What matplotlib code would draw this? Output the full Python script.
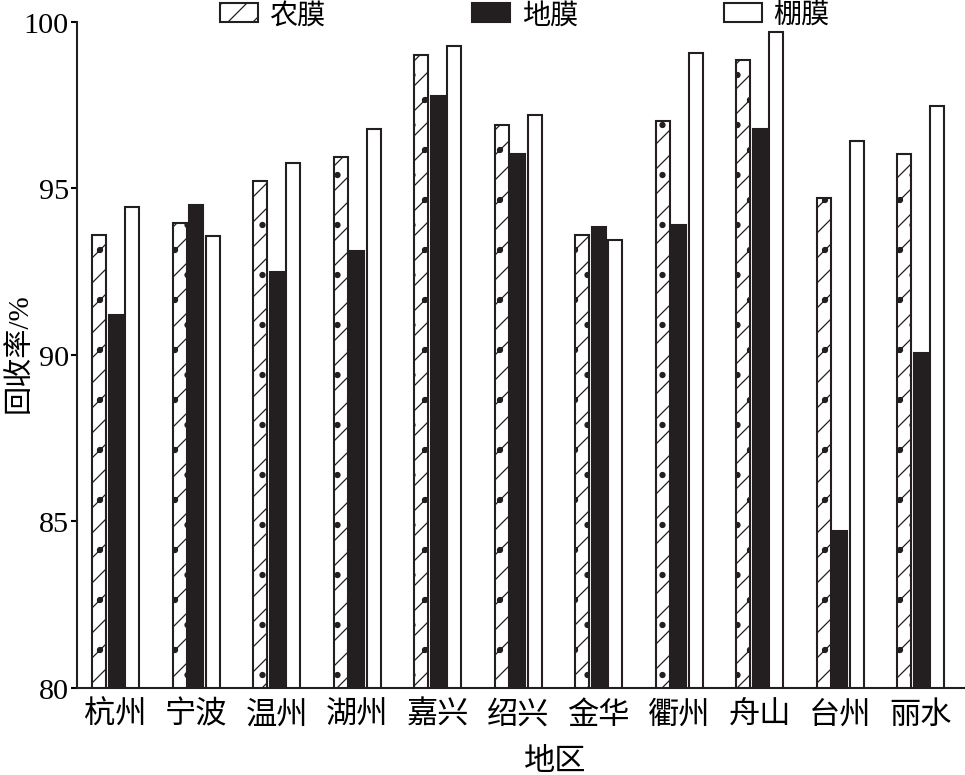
import matplotlib
matplotlib.use("Agg")
import matplotlib.pyplot as plt
import numpy as np

plt.rcParams.update({
    "font.family": ["Liberation Serif", "Noto Sans CJK SC"],
    "hatch.linewidth": 0.6,
    "hatch.color": "#231f20",
})

regions = ["杭州", "宁波", "温州", "湖州", "嘉兴", "绍兴", "金华", "衢州", "舟山", "台州", "丽水"]
nongmo = [93.58, 93.95, 95.20, 95.92, 98.98, 96.90, 93.58, 97.02, 98.85, 94.70, 96.02]
dimo = [91.20, 94.50, 92.48, 93.10, 97.77, 96.02, 93.82, 93.90, 96.76, 84.72, 90.05]
pengmo = [94.43, 93.56, 95.75, 96.78, 99.28, 97.18, 93.45, 99.07, 99.70, 96.42, 97.47]
series_labels = ["农膜", "地膜", "棚膜"]
yticks = [80, 85, 90, 95, 100]

dark = "#231f20"

fig = plt.figure(figsize=(965 / 150, 776 / 150), dpi=150)
ax = fig.add_axes([0.0798, 0.112, 0.9202, 0.859])

x = np.arange(len(regions))
w = 0.175
step = 0.204

ax.bar(x - step, nongmo, w, facecolor="white", edgecolor=dark,
       linewidth=1.0, hatch="//.", label=series_labels[0])
ax.bar(x, dimo, w, facecolor=dark, edgecolor=dark,
       linewidth=1.0, label=series_labels[1])
ax.bar(x + step, pengmo, w, facecolor="white", edgecolor=dark,
       linewidth=1.0, label=series_labels[2])

ax.set_ylim(80, 100)
ax.set_xlim(-0.48, 10.55)
ax.set_yticks(yticks)
ax.set_xticks(x)
ax.set_xticklabels(regions, fontsize=15)
ax.tick_params(axis="y", direction="out", length=3, width=1.0,
               pad=1, labelsize=14.5)
ax.tick_params(axis="x", length=0, pad=6)

for s in ["top", "right"]:
    ax.spines[s].set_visible(False)
for s in ["left", "bottom"]:
    ax.spines[s].set_linewidth(1.0)
    ax.spines[s].set_color(dark)

ax.set_ylabel("回收率/%", fontsize=14)
ax.yaxis.set_label_coords(-0.05, 0.504)
ax.set_xlabel("地区", fontsize=15)
ax.xaxis.set_label_coords(0.538, -0.088)

fig.legend(loc="center", bbox_to_anchor=(0.544, 0.979), ncol=3,
           frameon=False, fontsize=13.5, handlelength=1.36,
           handleheight=0.65, handletextpad=0.4, columnspacing=5.2,
           borderpad=0)

fig.savefig("out.png", dpi=150)
